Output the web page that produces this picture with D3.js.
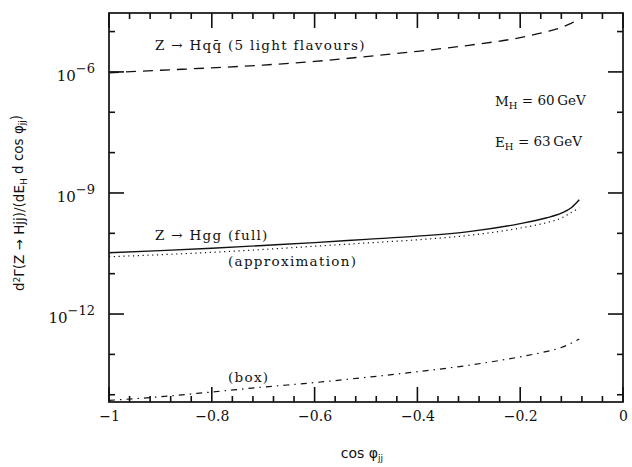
<!DOCTYPE html>
<html>
<head>
<meta charset="UTF-8">
<title>Z -> Hjj</title>
<script src="https://cdn.jsdelivr.net/npm/d3@7/dist/d3.min.js"></script>
<style type="text/css">
body { margin: 0; background: #fff; }
svg text { font-family: "DejaVu Serif", serif; fill: #111; }
.title text, text.title { font-family: "DejaVu Sans", sans-serif; }
</style>
</head>
<body>
<div class="chart"></div>
<script>
// values
var cosPhi = [-1, -0.9, -0.8, -0.7, -0.6, -0.5, -0.4, -0.3, -0.2, -0.15, -0.12, -0.1, -0.085];
var hqq    = [9.5e-7, 1.10e-6, 1.26e-6, 1.48e-6, 1.82e-6, 2.40e-6, 3.24e-6, 4.57e-6, 7.08e-6, 9.8e-6, 1.26e-5, 1.62e-5, 2.04e-5];
var hggFull = [3.31e-11, 3.72e-11, 4.27e-11, 5.01e-11, 5.89e-11, 7.08e-11, 8.51e-11, 1.10e-10, 1.74e-10, 2.40e-10, 3.16e-10, 4.37e-10, 6.76e-10];
var hggApprox = [2.63e-11, 2.95e-11, 3.39e-11, 3.98e-11, 4.79e-11, 5.75e-11, 6.92e-11, 8.91e-11, 1.35e-10, 1.82e-10, 2.40e-10, 3.31e-10, 4.27e-10];
var hggBox = [7.24e-15, 8.91e-15, 1.17e-14, 1.55e-14, 2.00e-14, 2.69e-14, 3.72e-14, 5.37e-14, 8.71e-14, 1.17e-13, 1.48e-13, 1.91e-13, 2.40e-13];

var xMajor = [-1, -0.8, -0.6, -0.4, -0.2, 0];
var yMajor = [1e-6, 1e-9, 1e-12];
var yMajorExp = ["\u22126", "\u22129", "\u221212"];

var margin = {top: 13, right: 9, bottom: 65, left: 109};
var W = 632, H = 467;
var w = W - margin.left - margin.right;
var h = H - margin.top - margin.bottom;

var svg = d3.select(".chart").append("svg")
  .attr("width", W).attr("height", H);
var g = svg.append("g").attr("transform", "translate(" + margin.left + "," + margin.top + ")");

var x = d3.scaleLinear().domain([-1, 0]).range([0, w]);
var y = d3.scaleLog().domain([Math.pow(10, -14.18), Math.pow(10, -4.54)]).range([h, 0]);

var xMinor = d3.range(-1, 0.001, 0.04).map(function(d){ return +d.toFixed(2); })
  .filter(function(d){ return xMajor.indexOf(d) < 0; });
var yMinor = d3.range(-5, -14.5, -1).map(function(e){ return Math.pow(10, e); })
  .filter(function(d){ return yMajor.every(function(m){ return Math.abs(Math.log10(m) - Math.log10(d)) > 0.01; }); });

// frame
g.append("rect").attr("width", w).attr("height", h)
  .style("fill", "none").attr("stroke", "#111").attr("stroke-width", 1.7);

// tick marks as small filled rects on all four sides
var xTickData = xMajor.map(function(d){ return {v: d, len: 15}; })
  .concat(xMinor.map(function(d){ return {v: d, len: 6}; }));
var yTickData = yMajor.map(function(d){ return {v: d, len: 15}; })
  .concat(yMinor.map(function(d){ return {v: d, len: 6}; }));
var tickG = g.append("g");
[0, 1].forEach(function(side){
  tickG.selectAll("rect.xt" + side).data(xTickData).enter().append("rect")
    .attr("class", "xt" + side)
    .attr("x", function(d){ return x(d.v) - 0.8; })
    .attr("y", function(d){ return side ? 0 : h - d.len; })
    .attr("width", 1.6)
    .attr("height", function(d){ return d.len; })
    .attr("fill", "#111");
  tickG.selectAll("rect.yt" + side).data(yTickData).enter().append("rect")
    .attr("class", "yt" + side)
    .attr("x", function(d){ return side ? w - d.len : 0; })
    .attr("y", function(d){ return y(d.v) - 0.8; })
    .attr("width", function(d){ return d.len; })
    .attr("height", 1.6)
    .attr("fill", "#111");
});

// axis labels from d3 axes
var xb = g.append("g").attr("transform", "translate(0," + h + ")")
  .call(d3.axisBottom(x).tickValues(xMajor).tickSize(0).tickPadding(9)
    .tickFormat(function(d){ return d === 0 ? "0" : d === -1 ? "\u22121" : d3.format(".1f")(d).replace("-", "\u2212"); }));
xb.select(".domain").remove();
xb.selectAll("line").remove();
xb.selectAll("text").attr("font-size", 14).attr("font-family", "DejaVu Serif, serif");

var yl = g.append("g")
  .call(d3.axisLeft(y).tickValues(yMajor).tickSize(0).tickPadding(14).tickFormat(""));
yl.select(".domain").remove();
yl.selectAll("line").remove();
yl.selectAll(".tick").each(function(d, i){
  var t = d3.select(this).select("text")
    .attr("font-size", 15).attr("font-family", "DejaVu Serif, serif")
    .attr("dy", "0.55em");
  t.append("tspan").text("10");
  t.append("tspan").attr("dy", "-0.6em").attr("font-size", 13).text(yMajorExp[i]);
});

// curves
var line = function(vals) {
  return d3.line()
    .x(function(d, i){ return x(cosPhi[i]); })
    .y(function(d){ return y(d); })
    .curve(d3.curveMonotoneX)(vals);
};
var series = [
  {vals: hqq, dash: "10,7", width: 1.3},
  {vals: hggFull, dash: null, width: 1.4},
  {vals: hggApprox, dash: "1.2,3.6", width: 1.2},
  {vals: hggBox, dash: "6,5,1.5,5", width: 1.2}
];
g.selectAll("path.curve").data(series).enter().append("path")
  .attr("class", "curve")
  .attr("d", function(d){ return line(d.vals); })
  .attr("fill", "none").attr("stroke", "#111")
  .attr("stroke-width", function(d){ return d.width; })
  .attr("stroke-dasharray", function(d){ return d.dash; });

// annotations
function label(px, py, parts, size, spacing) {
  var t = svg.append("text").attr("x", px).attr("y", py).attr("font-size", size || 13.5)
    .attr("letter-spacing", spacing || 0);
  parts.forEach(function(p){
    var s = t.append("tspan").text(p.t);
    if (p.sub) s.attr("font-size", 10).attr("dy", "0.3em");
    if (p.back) s.attr("dy", "-0.3em");
  });
  return t;
}
label(155, 50, [{t: "Z \u2192 Hq" + "q\u0304" + " (5 light flavours)"}], 13.5, 1.3);
label(155, 240, [{t: "Z \u2192 Hgg (full)"}], 13.5, 1.3);
label(228, 266, [{t: "(approximation)"}], 13.5, 1.3);
label(228, 382, [{t: "(box)"}], 13.5, 1.3);
label(495, 106, [{t: "M"}, {t: "H", sub: true}, {t: " = 60\u2009GeV", back: true}]);
label(495, 147, [{t: "E"}, {t: "H", sub: true}, {t: " = 63\u2009GeV", back: true}]);

// axis titles
var xt = svg.append("text").attr("class", "title")
  .attr("x", 362).attr("y", 458).attr("text-anchor", "middle").attr("font-size", 14);
xt.append("tspan").text("cos \u03c6");
xt.append("tspan").attr("font-size", 9).attr("dy", "0.35em").text("jj");

var yt = svg.append("text").attr("class", "title")
  .attr("transform", "translate(24,203) rotate(-90)")
  .attr("text-anchor", "middle").attr("font-size", 13.5);
yt.append("tspan").text("d");
yt.append("tspan").attr("font-size", 9).attr("dy", "-0.45em").text("2");
yt.append("tspan").attr("dy", "0.3em").text("\u0393(Z \u2192 Hjj)/(dE");
yt.append("tspan").attr("font-size", 9).attr("dy", "0.3em").text("H");
yt.append("tspan").attr("dy", "-0.3em").text(" d cos \u03c6");
yt.append("tspan").attr("font-size", 9).attr("dy", "0.3em").text("jj");
yt.append("tspan").attr("dy", "-0.3em").text(")");
</script>
</body>
</html>
